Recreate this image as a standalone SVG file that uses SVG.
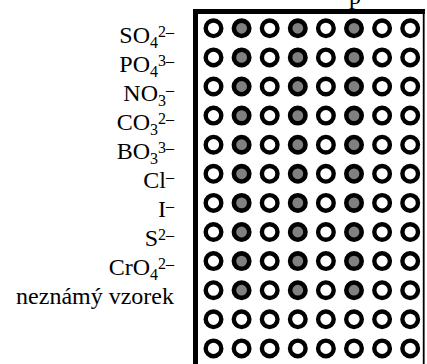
<svg xmlns="http://www.w3.org/2000/svg" width="427" height="364" viewBox="0 0 427 364">
<style>
text{font-family:"Liberation Serif","Times New Roman",serif;font-size:24px;fill:#000}
.lb{text-anchor:end}
.s{font-size:16px}
.o{fill:#fff;stroke:#000;stroke-width:4.4}
.g{fill:#808080;stroke:#000;stroke-width:4.6}
</style>
<defs>
<circle id="o" r="7.8" class="o"/>
<circle id="g" r="7.7" class="g"/>
<g id="rowF">
<use href="#o" x="213.5"/><use href="#g" x="241.6"/><use href="#o" x="269.7"/><use href="#g" x="297.8"/><use href="#o" x="325.9"/><use href="#g" x="354"/><use href="#o" x="382.1"/><use href="#o" x="410.2"/>
</g>
<g id="rowE">
<use href="#o" x="213.5"/><use href="#o" x="241.6"/><use href="#o" x="269.7"/><use href="#o" x="297.8"/><use href="#o" x="325.9"/><use href="#o" x="354"/><use href="#o" x="382.1"/><use href="#o" x="410.2"/>
</g>
</defs>
<rect width="427" height="364" fill="#fff"/>
<text x="349" y="4">p</text>
<g id="frame">
<rect x="193" y="9" width="232" height="5" fill="#000"/>
<rect x="193" y="9" width="5" height="355" fill="#000"/>
<rect x="422.8" y="9" width="1.8" height="355" fill="#000"/>
</g>
<g id="labels">
<g id="l-so4"><text class="lb" x="174" y="43">SO<tspan class="s" dy="5">4</tspan><tspan class="s" dy="-11">2–</tspan></text></g>
<g id="l-po4"><text class="lb" x="174" y="72">PO<tspan class="s" dy="5">4</tspan><tspan class="s" dy="-11">3–</tspan></text></g>
<g id="l-no3"><text class="lb" x="174" y="101">NO<tspan class="s" dy="5">3</tspan><tspan class="s" dy="-11">–</tspan></text></g>
<g id="l-co3"><text class="lb" x="174" y="130">CO<tspan class="s" dy="5">3</tspan><tspan class="s" dy="-11">2–</tspan></text></g>
<g id="l-bo3"><text class="lb" x="174" y="159">BO<tspan class="s" dy="5">3</tspan><tspan class="s" dy="-11">3–</tspan></text></g>
<g id="l-cl"><text class="lb" x="174" y="188">Cl<tspan class="s" dy="-6">–</tspan></text></g>
<g id="l-i"><text class="lb" x="174" y="217">I<tspan class="s" dy="-6">–</tspan></text></g>
<g id="l-s"><text class="lb" x="174" y="246">S<tspan class="s" dy="-6">2–</tspan></text></g>
<g id="l-cro4"><text class="lb" x="174" y="275">CrO<tspan class="s" dy="5">4</tspan><tspan class="s" dy="-11">2–</tspan></text></g>
<g id="l-sample"><text class="lb" x="174" y="304">neznámý vzorek</text></g>
</g>
<g id="grid">
<use id="r1" href="#rowF" y="28.3"/>
<use id="r2" href="#rowF" y="57.4"/>
<use id="r3" href="#rowF" y="86.5"/>
<use id="r4" href="#rowF" y="115.6"/>
<use id="r5" href="#rowF" y="144.7"/>
<use id="r6" href="#rowF" y="173.8"/>
<use id="r7" href="#rowF" y="202.9"/>
<use id="r8" href="#rowF" y="232"/>
<use id="r9" href="#rowF" y="261.1"/>
<use id="r10" href="#rowF" y="290.2"/>
<use id="r11" href="#rowE" y="319.3"/>
<use id="r12" href="#rowE" y="348.4"/>
</g>
<g id="connectors"/>
</svg>
